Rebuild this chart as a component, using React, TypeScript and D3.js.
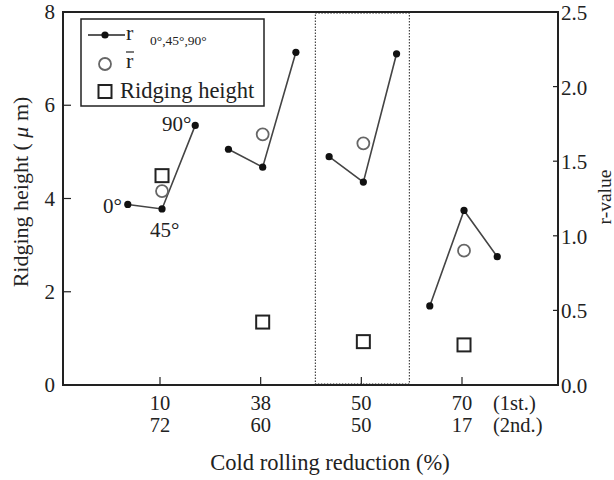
import React from "react";
import * as d3 from "d3";

const reduction1st = ["10", "38", "50", "70"];
const reduction2nd = ["72", "60", "50", "17"];
const r0 = [1.21, 1.58, 1.53, 0.53];
const r45 = [1.18, 1.46, 1.36, 1.17];
const r90 = [1.74, 2.23, 2.22, 0.86];
const rBar = [1.3, 1.68, 1.62, 0.9];
const ridgingHeight = [4.49, 1.35, 0.93, 0.86];
const leftTicks = [0, 2, 4, 6, 8];
const rightTicks = [0, 0.5, 1.0, 1.5, 2.0, 2.5];

const W = 614;
const H = 480;
const L = 63;
const R = 558;
const T = 12;
const B = 385;
const FONT = '"Liberation Serif", "DejaVu Serif", serif';
const angleOffsets = [-0.32, 0.02, 0.35];
const ts = { fontFamily: FONT };

export default function App() {
  const x = d3.scaleLinear().domain([0, 3]).range([160, 462]);
  const yL = d3.scaleLinear().domain([0, 8]).range([B, T]);
  const yR = d3.scaleLinear().domain([0, 2.5]).range([B, T]);
  const line = d3
    .line<[number, number]>()
    .x((d) => d[0])
    .y((d) => d[1]);

  const groups = reduction1st.map((_, i) => {
    const pts: [number, number][] = [r0[i], r45[i], r90[i]].map((v, k) => [
      x(i + angleOffsets[k]),
      yR(v),
    ]);
    return pts;
  });

  return (
    <svg
      width={W}
      height={H}
      style={{ position: "absolute", left: 0, top: 0, background: "#fff", fontFamily: FONT }}
    >
      {/* dotted highlight box */}
      <rect
        x={x(2) - 46}
        y={T + 1}
        width={94}
        height={B - T - 2}
        fill="none"
        stroke="#222"
        strokeWidth={1}
        strokeDasharray="1.5,1.5"
      />
      {/* frame */}
      <rect x={L} y={T} width={R - L} height={B - T} fill="none" stroke="#222" strokeWidth={2} />
      {/* left ticks */}
      {leftTicks.map((t) => (
        <g key={"l" + t}>
          <line x1={L} x2={L + 8} y1={yL(t)} y2={yL(t)} stroke="#222" strokeWidth={1.2} />
          <text style={ts} x={L - 8} y={yL(t) + 7} textAnchor="end" fontSize={21} fill="#222">
            {t}
          </text>
        </g>
      ))}
      {/* right ticks */}
      {rightTicks.map((t) => (
        <g key={"r" + t}>
          <line x1={R - 5} x2={R} y1={yR(t)} y2={yR(t)} stroke="#222" strokeWidth={1.2} />
          <text style={ts} x={R + 3} y={yR(t) + 8} textAnchor="start" fontSize={21} fill="#222">
            {t.toFixed(1)}
          </text>
        </g>
      ))}
      {/* bottom ticks */}
      {reduction1st.map((c, i) => (
        <g key={"b" + i}>
          <line x1={x(i)} x2={x(i)} y1={B} y2={B - 8} stroke="#222" strokeWidth={1.2} />
          <text style={ts} x={x(i)} y={410} textAnchor="middle" fontSize={20.5} fill="#222">
            {c}
          </text>
          <text style={ts} x={x(i)} y={432} textAnchor="middle" fontSize={20.5} fill="#222">
            {reduction2nd[i]}
          </text>
        </g>
      ))}
      <text style={ts} x={493} y={410} fontSize={20.5} fill="#222">(1st.)</text>
      <text style={ts} x={493} y={432} fontSize={20.5} fill="#222">(2nd.)</text>

      {/* axis titles */}
      <text style={ts} x={330} y={470} textAnchor="middle" fontSize={22.5} fill="#222">
        Cold rolling reduction (%)
      </text>
      <text
        style={ts}
        transform={`translate(28, 192) rotate(-90)`}
        textAnchor="middle"
        fontSize={22}
        fill="#222"
      >
        Ridging height ( <tspan fontStyle="italic">μ</tspan> m)
      </text>
      <text
        style={ts}
        transform={`translate(611, 197) rotate(-90)`}
        textAnchor="middle"
        fontSize={19.5}
        fill="#222"
      >
        r-value
      </text>

      {/* r lines */}
      {groups.map((pts, i) => (
        <g key={"g" + i}>
          <path d={line(pts) || ""} fill="none" stroke="#444" strokeWidth={1.6} />
          {pts.map((p, k) => (
            <circle key={k} cx={p[0]} cy={p[1]} r={3.6} fill="#111" />
          ))}
        </g>
      ))}
      {/* r-bar */}
      {rBar.map((v, i) => (
        <circle
          key={"rb" + i}
          cx={x(i + angleOffsets[1])}
          cy={yR(v)}
          r={6}
          fill="#fff"
          stroke="#666"
          strokeWidth={1.8}
        />
      ))}
      {/* ridging squares */}
      {ridgingHeight.map((v, i) => (
        <rect
          key={"sq" + i}
          x={x(i + angleOffsets[1]) - 6.5}
          y={yL(v) - 6.5}
          width={13}
          height={13}
          fill="#fff"
          stroke="#222"
          strokeWidth={2}
        />
      ))}

      {/* angle annotations */}
      <text style={ts} x={103} y={213} fontSize={21} fill="#222">0°</text>
      <text style={ts} x={150} y={237} fontSize={21} fill="#222">45°</text>
      <text style={ts} x={162} y={131} fontSize={21} fill="#222">90°</text>

      {/* legend */}
      <rect x={81} y={19} width={183} height={87} fill="#fff" stroke="#222" strokeWidth={1.5} />
      <line x1={88} x2={125} y1={35} y2={35} stroke="#222" strokeWidth={1.6} />
      <circle cx={105} cy={35} r={3.6} fill="#111" />
      <text style={ts} x={126} y={40} fontSize={22} fill="#222">r</text>
      <text style={ts} x={150} y={45} fontSize={13.5} fill="#222">0°,45°,90°</text>
      <circle cx={105} cy={64} r={6} fill="#fff" stroke="#666" strokeWidth={1.8} />
      <text style={ts} x={126} y={68} fontSize={22} fill="#222">r</text>
      <line x1={126} x2={134} y1={52} y2={52} stroke="#222" strokeWidth={1.2} />
      <rect x={98.5} y={85} width={13} height={13} fill="#fff" stroke="#222" strokeWidth={2} />
      <text style={ts} x={120} y={98} fontSize={22.5} fill="#222">Ridging height</text>
    </svg>
  );
}
